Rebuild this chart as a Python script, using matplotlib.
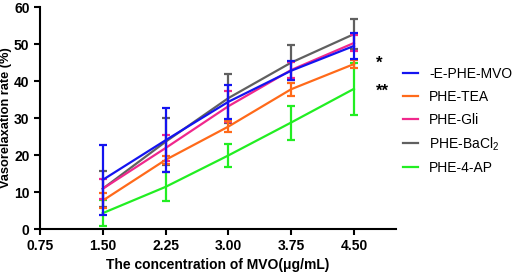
import matplotlib
matplotlib.use("Agg")
import matplotlib.pyplot as plt

plt.rcParams['font.family'] = ['Liberation Sans', 'DejaVu Sans']
plt.rcParams['mathtext.default'] = 'regular'

conc = [1.50, 2.25, 3.00, 3.75, 4.50]
xticks = [0.75, 1.50, 2.25, 3.00, 3.75, 4.50]

labels = ['-E-PHE-MVO', 'PHE-TEA', 'PHE-Gli', 'PHE-BaCl$_2$', 'PHE-4-AP']
colors = ['#1414f0', '#ff6a1a', '#f0288c', '#606060', '#22ee22']

mvo = [13.3, 24.0, 34.4, 42.8, 49.5]
mvo_err = [9.5, 8.6, 4.6, 2.5, 3.4]
tea = [7.7, 18.7, 27.7, 37.8, 44.6]
tea_err = [2.0, 1.1, 1.4, 1.8, 1.0]
gli = [10.9, 21.9, 33.2, 43.0, 50.3]
gli_err = [2.7, 3.6, 4.2, 2.2, 2.2]
bacl = [10.9, 23.6, 35.4, 45.0, 52.7]
bacl_err = [4.9, 6.4, 6.6, 4.8, 4.1]
ap = [4.3, 11.4, 19.9, 28.8, 37.9]
ap_err = [3.6, 3.9, 3.2, 4.6, 7.1]

means = [mvo, tea, gli, bacl, ap]
errs = [mvo_err, tea_err, gli_err, bacl_err, ap_err]

fig = plt.figure(figsize=(5.12, 2.74), dpi=100)
ax = fig.add_axes([0.078, 0.164, 0.695, 0.81])

# draw so that the blue series ends up on top
handles = [None] * 5
for i in [4, 3, 2, 1, 0]:
    h = ax.errorbar(conc, means[i], yerr=errs[i], color=colors[i], lw=1.6,
                    elinewidth=1.6, capsize=3, capthick=1.6, zorder=3 + (5 - i))
    handles[i] = h[0]

ax.text(4.80, 44.8, '*', fontsize=12, fontweight='bold', ha='center', va='center')
ax.text(4.84, 37.2, '**', fontsize=12, fontweight='bold', ha='center', va='center')

ax.set_xlim(0.75, 5.0)
ax.set_ylim(0, 60)
ax.set_xticks(xticks)
ax.set_xticklabels(['%.2f' % v for v in xticks])
ax.set_yticks(range(0, 61, 10))
for s in ['top', 'right']:
    ax.spines[s].set_visible(False)
for s in ['left', 'bottom']:
    ax.spines[s].set_linewidth(1.5)
ax.tick_params(width=1.5, length=4, labelsize=10)
for t in ax.get_xticklabels() + ax.get_yticklabels():
    t.set_fontweight('bold')

ax.set_xlabel('The concentration of MVO(μg/mL)', fontsize=10, fontweight='bold', labelpad=3)
ax.set_ylabel('Vasorelaxation rate (%)', fontsize=9.2, fontweight='bold')
ax.yaxis.set_label_coords(-0.078, 0.5)

fig.legend(handles, labels, loc='upper left', bbox_to_anchor=(0.762, 0.80),
           frameon=False, fontsize=10, handlelength=1.1, handletextpad=0.8,
           labelspacing=0.62)

fig.savefig('out.png', dpi=100)
